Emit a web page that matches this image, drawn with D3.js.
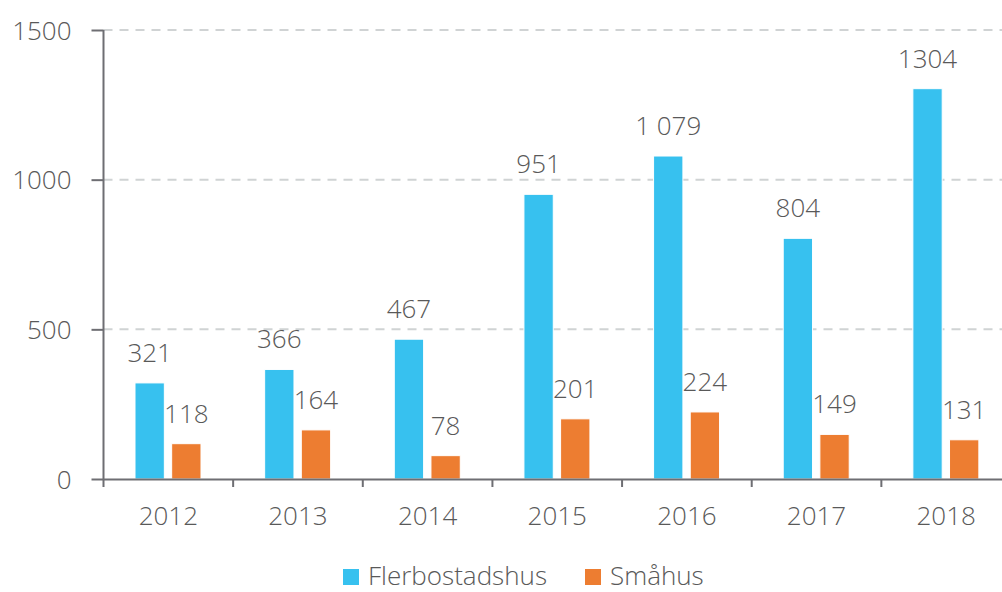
<!DOCTYPE html>
<html>
<head>
<meta charset="utf-8">
<script src="https://cdn.jsdelivr.net/npm/d3@7"></script>
<style>
  body { margin: 0; background: #fff; }
  #chart text { font-family: "Open Sans", "Liberation Sans", sans-serif; font-weight: 300; fill: #595959; }
</style>
</head>
<body>
<div id="chart"></div>
<script>
const years = ['2012', '2013', '2014', '2015', '2016', '2017', '2018'];
const seriesNames = ['Flerbostadshus', 'Småhus'];
const flerbostadshus = [321, 366, 467, 951, 1079, 804, 1304];
const smahus = [118, 164, 78, 201, 224, 149, 131];
const flerLabels = ['321', '366', '467', '951', '1 079', '804', '1304'];
const smaLabels = ['118', '164', '78', '201', '224', '149', '131'];
const yTicks = [0, 500, 1000, 1500];
const colors = ['#37C1EF', '#ED7D31'];

const width = 1002, height = 592;
const plotLeft = 103.5, plotRight = 1011, plotTop = 30, plotBottom = 479;

const svg = d3.select('#chart').append('svg')
    .attr('width', width)
    .attr('height', height);

const x = d3.scaleBand().domain(years).range([plotLeft, plotRight]).paddingInner(0).paddingOuter(0);
const bw = x.bandwidth();
const x1 = d3.scaleBand().domain(seriesNames).range([bw * 0.243, bw * 0.752]).paddingInner(0.2);
const y = d3.scaleLinear().domain([0, 1500]).range([plotBottom, plotTop]);

// gridlines
svg.append('g')
    .selectAll('line')
    .data(yTicks.filter(d => d > 0))
    .join('line')
    .attr('x1', plotLeft).attr('x2', width)
    .attr('y1', d => y(d)).attr('y2', d => y(d))
    .attr('stroke', '#d0d3d4')
    .attr('stroke-width', 2)
    .attr('stroke-dasharray', '9,7');

// bars
const rows = years.map((yr, i) => ({
    year: yr,
    values: [
        { name: seriesNames[0], value: flerbostadshus[i], label: flerLabels[i], color: colors[0] },
        { name: seriesNames[1], value: smahus[i], label: smaLabels[i], color: colors[1] }
    ]
}));

const groups = svg.append('g')
    .selectAll('g')
    .data(rows)
    .join('g')
    .attr('transform', d => `translate(${x(d.year)},0)`);

groups.selectAll('rect')
    .data(d => d.values)
    .join('rect')
    .attr('x', d => x1(d.name))
    .attr('width', x1.bandwidth())
    .attr('y', d => y(d.value))
    .attr('height', d => plotBottom - y(d.value))
    .attr('fill', d => d.color)
    .attr('stroke', '#fff')
    .attr('stroke-width', 1);

groups.selectAll('text')
    .data(d => d.values)
    .join('text')
    .attr('x', d => x1(d.name) + x1.bandwidth() / 2)
    .attr('y', d => y(d.value) - 21)
    .attr('text-anchor', 'middle')
    .style('font-size', '26px')
    .text(d => d.label);

// axes
const axisColor = '#6e6e73';
const yAxis = svg.append('g')
    .attr('transform', `translate(${plotLeft},0)`)
    .call(d3.axisLeft(y).tickValues(yTicks).tickSize(12).tickPadding(20).tickFormat(d3.format('d')));
yAxis.select('.domain').remove();
yAxis.selectAll('.tick line').attr('stroke', axisColor).attr('stroke-width', 2);
yAxis.selectAll('.tick text').style('font-size', '26px').attr('dy', '0.35em');

svg.append('line')
    .attr('x1', plotLeft).attr('x2', plotLeft)
    .attr('y1', plotTop).attr('y2', plotBottom + 8)
    .attr('stroke', axisColor).attr('stroke-width', 2);

const xAxis = svg.append('g')
    .attr('transform', `translate(0,${plotBottom})`)
    .call(d3.axisBottom(x).tickSize(0).tickPadding(28));
xAxis.select('.domain').attr('stroke', axisColor).attr('stroke-width', 2);
xAxis.selectAll('.tick text').style('font-size', '26px');

svg.append('g')
    .selectAll('line')
    .data(years.slice(1))
    .join('line')
    .attr('x1', d => x(d)).attr('x2', d => x(d))
    .attr('y1', plotBottom).attr('y2', plotBottom + 8)
    .attr('stroke', axisColor).attr('stroke-width', 2);

// legend
const legend = svg.append('g').attr('transform', 'translate(343,569)');
const legendX = [0, 242];
seriesNames.forEach((name, i) => {
    const g = legend.append('g').attr('transform', `translate(${legendX[i]},0)`);
    g.append('rect').attr('width', 16).attr('height', 16).attr('fill', colors[i]);
    g.append('text').attr('x', 25).attr('y', 16).style('font-size', '26px').text(name);
});
</script>
</body>
</html>
